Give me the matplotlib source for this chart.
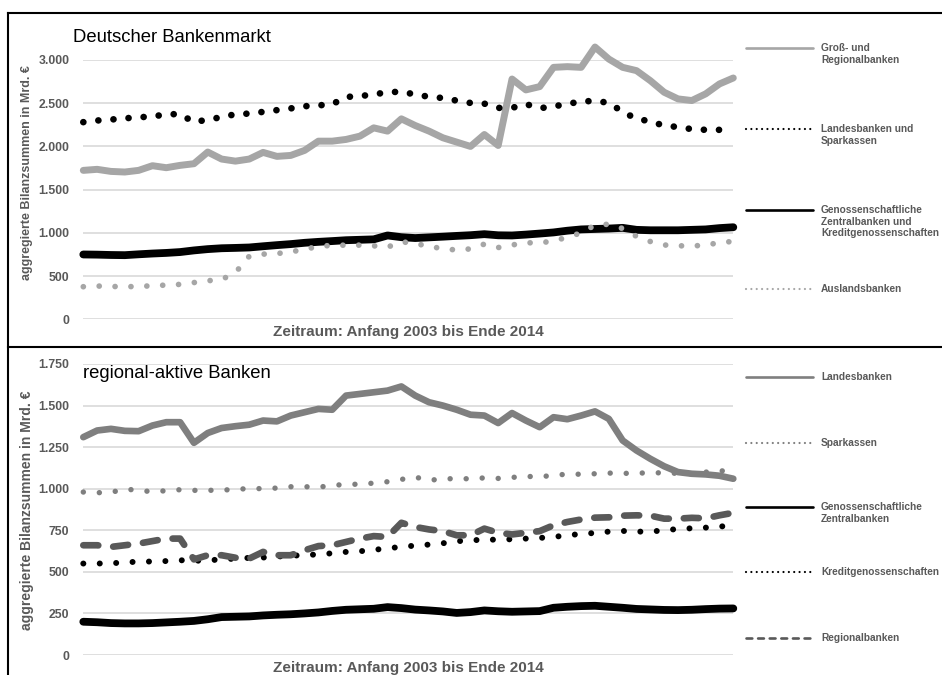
#!/usr/bin/env python3

import numpy as np
import matplotlib
matplotlib.use('Agg')
import matplotlib.pyplot as plt
from matplotlib.lines import Line2D
from matplotlib.ticker import FuncFormatter

plt.rcParams['font.family'] = ['Liberation Sans', 'DejaVu Sans']

# Quarters from Q1 2003 to Q4 2014
quarters = [f"{y}Q{q}" for y in range(2003, 2015) for q in range(1, 5)]

# Top chart: Deutscher Bankenmarkt (Mrd. EUR)
gross_regional = [1723, 1735, 1711, 1704, 1723, 1777, 1754, 1781, 1800, 1935, 1854, 1830,
                  1854, 1931, 1885, 1896, 1954, 2061, 2061, 2081, 2119, 2215, 2177, 2319,
                  2242, 2177, 2100, 2050, 2000, 2138, 2011, 2780, 2654, 2692, 2915, 2923,
                  2915, 3150, 3011, 2915, 2877, 2761, 2627, 2550, 2531, 2608, 2723, 2792]
landes_spark = [2281, 2300, 2311, 2325, 2338, 2345, 2373, 2373, 2280, 2311, 2338, 2373,
                2380, 2400, 2420, 2440, 2465, 2475, 2488, 2573, 2581, 2604, 2625, 2635,
                2600, 2575, 2560, 2530, 2503, 2495, 2446, 2446, 2490, 2442, 2463, 2492,
                2520, 2527, 2505, 2400, 2320, 2290, 2240, 2225, 2200, 2192, 2192, 2192]
genoss_all = [750, 748, 744, 742, 752, 761, 768, 778, 797, 812, 822, 826,
              831, 845, 858, 870, 885, 896, 905, 915, 920, 925, 970, 950,
              940, 948, 956, 965, 973, 985, 972, 970, 980, 992, 1005, 1025,
              1040, 1045, 1050, 1058, 1035, 1030, 1030, 1030, 1035, 1040, 1055, 1065]
auslands = [377, 385, 380, 377, 380, 388, 396, 404, 425, 446, 460, 540,
            730, 754, 760, 781, 808, 845, 855, 858, 858, 850, 835, 896,
            880, 840, 820, 800, 815, 870, 830, 860, 885, 885, 905, 950,
            1000, 1090, 1100, 1050, 960, 900, 860, 850, 850, 855, 890, 900]

# Bottom chart: regional-aktive Banken (Mrd. EUR)
landesbanken = [1310, 1350, 1360, 1348, 1346, 1380, 1400, 1400, 1276, 1335, 1365, 1376,
                1385, 1410, 1405, 1440, 1460, 1480, 1475, 1560, 1570, 1580, 1590, 1615,
                1560, 1520, 1500, 1475, 1445, 1440, 1395, 1455, 1410, 1370, 1430, 1418,
                1440, 1465, 1420, 1290, 1230, 1180, 1135, 1100, 1090, 1086, 1078, 1060]
sparkassen = [980, 976, 978, 998, 990, 982, 988, 994, 990, 990, 992, 995,
              1002, 1000, 1004, 1012, 1012, 1010, 1018, 1028, 1026, 1034, 1042, 1056,
              1070, 1050, 1060, 1060, 1060, 1065, 1062, 1068, 1074, 1072, 1080, 1088,
              1087, 1090, 1094, 1092, 1094, 1095, 1096, 1092, 1090, 1100, 1104, 1120]
genoss_zb = [200, 197, 192, 190, 190, 192, 196, 200, 205, 215, 228, 230,
             232, 238, 242, 245, 250, 256, 265, 272, 275, 278, 288, 282,
             273, 268, 262, 253, 258, 268, 263, 260, 262, 264, 284, 290,
             294, 296, 290, 284, 277, 274, 271, 270, 272, 276, 279, 280]
kredit = [550, 550, 552, 556, 562, 562, 565, 570, 566, 570, 574, 580,
          584, 586, 592, 596, 602, 604, 612, 620, 624, 632, 642, 650,
          658, 664, 672, 684, 690, 693, 694, 696, 700, 704, 710, 720,
          728, 734, 742, 746, 742, 742, 750, 758, 762, 766, 772, 780]
regional = [660, 660, 650, 660, 670, 685, 700, 700, 575, 600, 600, 585,
            580, 620, 600, 600, 630, 655, 660, 680, 700, 715, 710, 795,
            770, 755, 745, 720, 720, 760, 735, 725, 735, 745, 780, 800,
            815, 826, 828, 838, 840, 838, 820, 820, 825, 822, 840, 855]

W, H = 942, 675
GREY_TXT = '#595959'


def fx(x):
    return x / W


def fy(y):
    return 1 - y / H


def style(kind, color, lw, gap=2.5):
    """Line style keywords for solid, dotted and dashed series."""
    kw = dict(color=color, lw=lw, solid_capstyle='round', solid_joinstyle='round',
              dash_capstyle='round', dash_joinstyle='round')
    if kind == 'dot':
        kw['linestyle'] = (0, (0.01, gap))
    elif kind == 'dash':
        kw['linestyle'] = (0, (gap, gap))
    else:
        kw['linestyle'] = '-'
    return kw


def setup_axes(fig, top_px, bottom_px, ymax, step):
    ax = fig.add_axes([fx(83.3), fy(bottom_px), 650 / W, (bottom_px - top_px) / H])
    ax.set_xlim(0, len(quarters) - 1)
    ax.set_ylim(0, ymax)
    ax.set_yticks(np.arange(0, ymax + 1, step))
    ax.yaxis.set_major_formatter(FuncFormatter(lambda v, p: f"{v:,.0f}".replace(',', '.')))
    ax.set_xticks([])
    ax.tick_params(axis='y', length=0, pad=10, labelsize=8.8, labelcolor=GREY_TXT)
    for lab in ax.get_yticklabels():
        lab.set_fontweight('bold')
    ax.yaxis.grid(True, color='#d9d9d9', lw=1.2)
    ax.set_axisbelow(True)
    for s in ax.spines.values():
        s.set_visible(False)
    return ax


def draw_legend(fig, entries):
    """Legend drawn by hand on the right side: (label, kind, color, y_px)."""
    for label, kind, color, y in entries:
        lw = 1.6 if kind == 'dot' else 1.9
        gap = 2.4 if kind == 'dot' else 2.2
        fig.add_artist(Line2D([fx(746), fx(813)], [fy(y), fy(y)], transform=fig.transFigure,
                              **style(kind, color, lw, gap)))
        fig.text(fx(821), fy(y - 5), label, fontsize=7.3, color=GREY_TXT, fontweight='bold',
                 va='top', ha='left', linespacing=1.2)


fig = plt.figure(figsize=(W / 100, H / 100), dpi=100)
x = np.arange(len(quarters))

# --- top panel ---
ax1 = setup_axes(fig, 60, 319.3, 3000, 500)
ax1.plot(x, gross_regional, clip_on=False, **style('solid', '#a6a6a6', 5.0))
ax1.plot(x, landes_spark, clip_on=False, **style('dot', 'black', 4.8, 2.26))
ax1.plot(x, genoss_all, clip_on=False, **style('solid', 'black', 5.6))
ax1.plot(x, auslands, clip_on=False, **style('dot', '#a6a6a6', 4.1, 2.78))

fig.text(fx(73), fy(38), 'Deutscher Bankenmarkt', fontsize=13.3, color='black', va='center')
fig.text(fx(27), fy(173), 'aggregierte Bilanzsummen in Mrd. €', rotation=90,
         fontsize=9, fontweight='bold', color=GREY_TXT, va='center', ha='center')
fig.text(fx(408), fy(332), 'Zeitraum: Anfang 2003 bis Ende 2014', fontsize=11,
         fontweight='bold', color=GREY_TXT, va='center', ha='center')
draw_legend(fig, [
    ('Groß- und\nRegionalbanken', 'solid', '#a6a6a6', 48.3),
    ('Landesbanken und\nSparkassen', 'dot', 'black', 129.3),
    ('Genossenschaftliche\nZentralbanken und\nKreditgenossenschaften', 'solid', 'black', 210),
    ('Auslandsbanken', 'dot', '#a6a6a6', 289.3),
])

# --- bottom panel ---
ax2 = setup_axes(fig, 364, 655, 1750, 250)
ax2.plot(x, landesbanken, clip_on=False, **style('solid', '#7f7f7f', 4.8))
ax2.plot(x, sparkassen, clip_on=False, **style('dot', '#7f7f7f', 3.9, 2.95))
ax2.plot(x, genoss_zb, clip_on=False, **style('solid', 'black', 5.6))
ax2.plot(x, kredit, clip_on=False, **style('dot', 'black', 4.3, 2.74))
ax2.plot(x, regional, clip_on=False, **style('dash', '#595959', 4.8, 2.25))

fig.text(fx(83), fy(374), 'regional-aktive Banken', fontsize=13.3, color='black', va='center')
fig.text(fx(27), fy(510), 'aggregierte Bilanzsummen in Mrd. €', rotation=90,
         fontsize=10, fontweight='bold', color=GREY_TXT, va='center', ha='center')
fig.text(fx(408), fy(668), 'Zeitraum: Anfang 2003 bis Ende 2014', fontsize=11,
         fontweight='bold', color=GREY_TXT, va='center', ha='center')
draw_legend(fig, [
    ('Landesbanken', 'solid', '#7f7f7f', 376.7),
    ('Sparkassen', 'dot', '#7f7f7f', 442.7),
    ('Genossenschaftliche\nZentralbanken', 'solid', 'black', 507),
    ('Kreditgenossenschaften', 'dot', 'black', 571.7),
    ('Regionalbanken', 'dash', '#595959', 638),
])

# Frame lines around the two panels
for xs, ys in [([8, W], [13, 13]), ([8, 8], [13, H]), ([8, W], [347, 347])]:
    fig.add_artist(Line2D([fx(v) for v in xs], [fy(v) for v in ys],
                          transform=fig.transFigure, color='black', lw=1.5))

fig.savefig('out.png', dpi=100)
